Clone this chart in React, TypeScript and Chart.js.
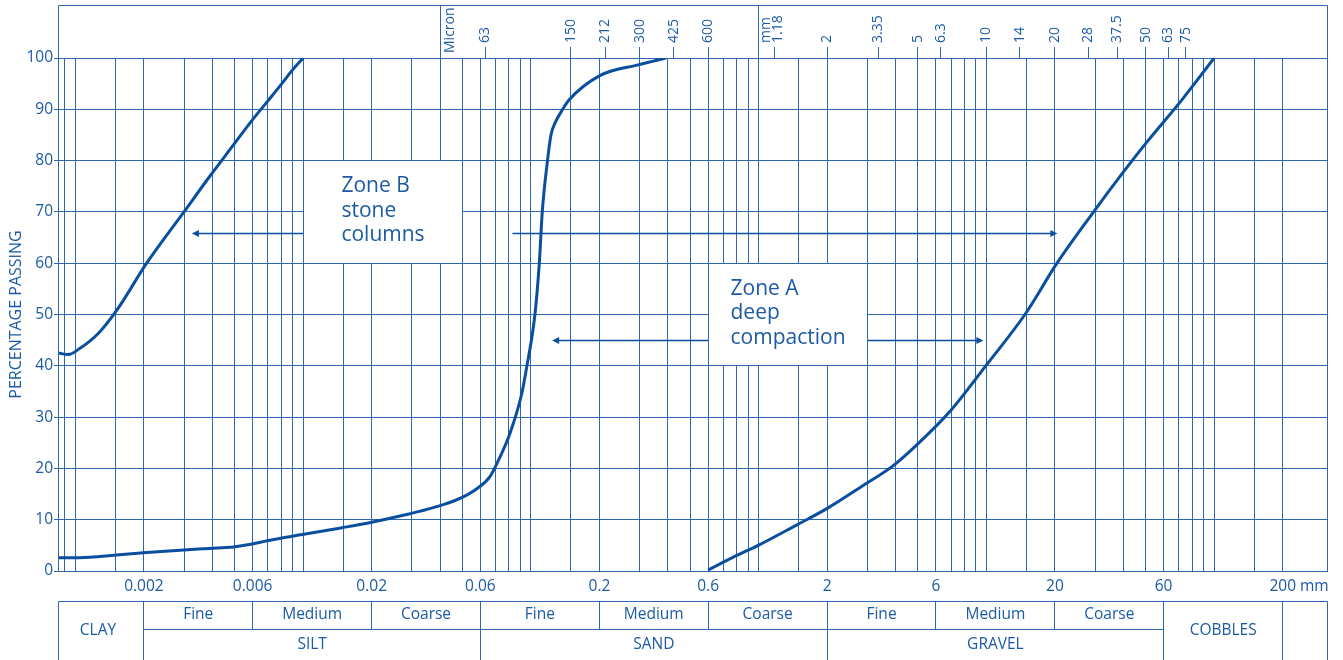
import React, { useEffect, useRef } from 'react';
import { Chart, registerables } from 'chart.js';

Chart.register(...registerables);

const FONT = "'Open Sans', 'DejaVu Sans', sans-serif";
const INK = '#1c5aa5';
const GRID = '#2f66b0';
const CURVE = '#0a4f9f';

const X_MIN = 0.000839;
const X_MAX = 313;

// vertical grid lines (particle size, mm)
const gridSizes = [
  0.0009, 0.001, 0.0015, 0.002, 0.003, 0.004, 0.005, 0.006, 0.007, 0.008, 0.009,
  0.01, 0.015, 0.02, 0.03, 0.04, 0.05, 0.06, 0.07, 0.08, 0.09,
  0.1, 0.15, 0.2, 0.3, 0.4, 0.5, 0.6, 0.7, 0.8, 0.9,
  1, 1.5, 2, 3, 4, 5, 6, 7, 8, 9,
  10, 15, 20, 30, 40, 50, 60, 70, 80, 90,
  100, 150, 200,
];

// bottom axis labels = soil class boundaries (mm)
const sizeBounds = [0.002, 0.006, 0.02, 0.06, 0.2, 0.6, 2, 6, 20, 60, 200];
const sizeLabels = ['0.002', '0.006', '0.02', '0.06', '0.2', '0.6', '2', '6', '20', '60', '200'];
const sizeUnit = 'mm';

// sieve sizes on the top axis (mm) and their labels
const sieveSizes = [0.063, 0.15, 0.212, 0.3, 0.425, 0.6, 1.18, 2, 3.35, 5, 6.3, 10, 14, 20, 28, 37.5, 50, 63, 75];
const sieveLabels = ['63', '150', '212', '300', '425', '600', '1.18', '2', '3.35', '5', '6.3', '10', '14', '20', '28', '37.5', '50', '63', '75'];
const micronLabel = 'Micron';
const mmLabel = 'mm';
const unitSplitSizes = [0.04, 1];
const firstMmSieve = 1.18;

// grading curves (size mm, % passing)
const zoneBFineSize = [0.00084, 0.000931, 0.00104, 0.00126, 0.001518, 0.002056, 0.002998, 0.003871, 0.004934, 0.005884, 0.006961, 0.007968, 0.008844, 0.01];
const zoneBFinePct = [42.5, 42.2, 43.3, 46.3, 50.8, 60, 70, 76.8, 83, 87.5, 91.5, 94.7, 97.3, 100];

const boundarySize = [0.00084, 0.001037, 0.001512, 0.002056, 0.002998, 0.003887, 0.004954, 0.005884, 0.006961, 0.007968, 0.009914, 0.01466, 0.02, 0.02907, 0.03765, 0.048, 0.0577, 0.06614, 0.07313, 0.08092, 0.09111, 0.09584, 0.1042, 0.1089, 0.1122, 0.1183, 0.1225, 0.1276, 0.1379, 0.147, 0.2017, 0.2992, 0.3907];
const boundaryPct = [2.6, 2.6, 3.1, 3.6, 4.1, 4.4, 4.7, 5.2, 5.9, 6.4, 7.1, 8.4, 9.5, 11.1, 12.4, 14, 16, 18.4, 22.2, 26.8, 34.5, 39.7, 50, 60, 70, 80, 85, 87.3, 90, 91.8, 96.6, 98.7, 100];

const zoneACoarseSize = [0.6, 0.7896, 0.9965, 1.459, 2.002, 2.91, 3.863, 4.922, 6.943, 9.859, 14.82, 20.42, 29.68, 39.51, 50.2, 72.03, 100];
const zoneACoarsePct = [0.2, 2.9, 5.0, 8.9, 12.2, 16.8, 20.4, 24.5, 31.2, 39.8, 50.1, 60, 70.1, 77.5, 83.4, 91.8, 100];

// zone annotations (data coordinates)
const zoneBBoxSize = [0.01, 0.05];
const zoneBBoxPct = [60, 80];
const zoneBText = ['Zone B', 'stone', 'columns'];
const zoneBArrowPct = 65.7;
const zoneBArrowLeft = [0.00325, 0.01];
const zoneBArrowRight = [0.083, 20.5];

const zoneABoxSize = [0.6, 3];
const zoneABoxPct = [40, 60];
const zoneAText = ['Zone A', 'deep', 'compaction'];
const zoneAArrowPct = 45;
const zoneAArrowLeft = [0.124, 0.6];
const zoneAArrowRight = [3, 9.7];

// classification table
const tableSubLabels = ['Fine', 'Medium', 'Coarse'];
const tableMainLabels = ['SILT', 'SAND', 'GRAVEL'];
const clayLabel = 'CLAY';
const cobblesLabel = 'COBBLES';

const crisp = (v: number) => Math.round(v - 0.5) + 0.5;
const sameSize = (a: number, b: number) => Math.abs(Math.log10(a) - Math.log10(b)) < 1e-6;

export default function App() {
  const ref = useRef<HTMLCanvasElement>(null);

  useEffect(() => {
    const canvas = ref.current;
    if (!canvas) return;

    const framePlugin = {
      id: 'frameAndTable',
      afterDraw(chart: any) {
        const { ctx, chartArea } = chart;
        const { left, right, top, bottom } = chartArea;
        const xs = chart.scales.x;
        const px = (v: number) => xs.getPixelForValue(v);
        const L = crisp(left);
        const R = crisp(right);
        const boxTop = 5.5;
        ctx.save();
        ctx.strokeStyle = GRID;
        ctx.lineWidth = 1;
        ctx.beginPath();
        ctx.moveTo(L, boxTop); ctx.lineTo(R, boxTop);
        ctx.moveTo(L, boxTop); ctx.lineTo(L, bottom);
        ctx.moveTo(R, boxTop); ctx.lineTo(R, bottom);
        unitSplitSizes.forEach((v) => { const x = crisp(px(v)); ctx.moveTo(x, boxTop); ctx.lineTo(x, top); });
        ctx.stroke();

        // unit captions in the sieve header
        ctx.fillStyle = INK;
        ctx.font = `14px ${FONT}`;
        const vText = (t: string, x: number, y: number) => {
          ctx.save();
          ctx.translate(x, y);
          ctx.rotate(-Math.PI / 2);
          ctx.textAlign = 'left';
          ctx.textBaseline = 'middle';
          ctx.fillText(t, 0, 0);
          ctx.restore();
        };
        vText(micronLabel, px(unitSplitSizes[0]) + 10, top - 5);
        const mmX = px(firstMmSieve);
        vText(mmLabel, mmX - 9, top - 15);
        vText(sieveLabels[sieveSizes.indexOf(firstMmSieve)], mmX + 3, top - 15);

        // unit after last bottom label
        ctx.font = `15.5px ${FONT}`;
        const lastX = px(sizeBounds[sizeBounds.length - 1]);
        const w = ctx.measureText(sizeLabels[sizeLabels.length - 1]).width;
        const sp = ctx.measureText(' ').width;
        ctx.textAlign = 'left';
        ctx.textBaseline = 'middle';
        ctx.fillText(sizeUnit, lastX + w / 2 + sp, bottom + 15.5);

        // classification table
        const tTop = crisp(bottom + 30.5);
        const tMid = crisp(bottom + 58);
        const tEnd = chart.height;
        ctx.beginPath();
        ctx.moveTo(L, tTop); ctx.lineTo(R, tTop);
        ctx.moveTo(crisp(px(sizeBounds[0])), tMid); ctx.lineTo(crisp(px(sizeBounds[9])), tMid);
        ctx.moveTo(L, tTop); ctx.lineTo(L, tEnd);
        ctx.moveTo(R, tTop); ctx.lineTo(R, tEnd);
        sizeBounds.forEach((v, i) => {
          const x = crisp(px(v));
          const full = i % 3 === 0 || i === sizeBounds.length - 1;
          ctx.moveTo(x, tTop);
          ctx.lineTo(x, full ? tEnd : tMid);
        });
        ctx.stroke();

        ctx.textAlign = 'center';
        ctx.textBaseline = 'middle';
        const row1 = bottom + 44;
        const row2 = bottom + 73.5;
        for (let k = 0; k < 3; k++) {
          for (let j = 0; j < 3; j++) {
            const a = px(sizeBounds[3 * k + j]);
            const b = px(sizeBounds[3 * k + j + 1]);
            ctx.fillText(tableSubLabels[j], (a + b) / 2, row1);
          }
          const a = px(sizeBounds[3 * k]);
          const b = px(sizeBounds[3 * k + 3]);
          ctx.fillText(tableMainLabels[k], (a + b) / 2, row2);
        }
        ctx.fillText(clayLabel, (left + px(sizeBounds[0])) / 2 - 3, bottom + 59.5);
        ctx.fillText(cobblesLabel, (px(sizeBounds[9]) + px(sizeBounds[10])) / 2, bottom + 59.5);
        ctx.restore();
      },
    };

    const zonePlugin = {
      id: 'zones',
      afterDatasetsDraw(chart: any) {
        const { ctx } = chart;
        const xs = chart.scales.x;
        const ys = chart.scales.y;
        const px = (v: number) => xs.getPixelForValue(v);
        const py = (v: number) => ys.getPixelForValue(v);
        ctx.save();
        const head = (x: number, y: number, dir: number) => {
          ctx.beginPath();
          ctx.moveTo(x, y);
          ctx.lineTo(x - dir * 7, y - 3.5);
          ctx.lineTo(x - dir * 7, y + 3.5);
          ctx.closePath();
          ctx.fill();
        };
        const zone = (boxS: number[], boxP: number[], text: string[], arrowP: number, leftSeg: number[], rightSeg: number[]) => {
          const y = crisp(py(arrowP));
          ctx.strokeStyle = CURVE;
          ctx.fillStyle = CURVE;
          ctx.lineWidth = 1.5;
          ctx.beginPath();
          ctx.moveTo(px(leftSeg[0]) + 3, y); ctx.lineTo(px(leftSeg[1]), y);
          ctx.moveTo(px(rightSeg[0]), y); ctx.lineTo(px(rightSeg[1]) - 3, y);
          ctx.stroke();
          head(px(leftSeg[0]), y, -1);
          head(px(rightSeg[1]), y, 1);

          const x0 = crisp(px(boxS[0]));
          const x1 = crisp(px(boxS[1]));
          const y0 = crisp(py(boxP[1]));
          const y1 = crisp(py(boxP[0]));
          ctx.fillStyle = '#ffffff';
          ctx.fillRect(x0, y0, x1 - x0, y1 - y0);
          ctx.strokeStyle = GRID;
          ctx.lineWidth = 1;
          ctx.strokeRect(x0, y0, x1 - x0, y1 - y0);

          ctx.fillStyle = INK;
          ctx.font = `21px ${FONT}`;
          ctx.textAlign = 'left';
          ctx.textBaseline = 'middle';
          const maxW = Math.max(...text.map((t) => ctx.measureText(t).width));
          const cx = (x0 + x1) / 2;
          const cy = (y0 + y1) / 2 - 1;
          text.forEach((t, i) => ctx.fillText(t, cx - maxW / 2, cy + (i - 1) * 24.5));
        };
        zone(zoneBBoxSize, zoneBBoxPct, zoneBText, zoneBArrowPct, zoneBArrowLeft, zoneBArrowRight);
        zone(zoneABoxSize, zoneABoxPct, zoneAText, zoneAArrowPct, zoneAArrowLeft, zoneAArrowRight);
        ctx.restore();
      },
    };

    const series = (xs: number[], ys: number[]) => xs.map((x, i) => ({ x, y: ys[i] }));
    const lineStyle = {
      borderColor: CURVE,
      borderWidth: 3,
      pointRadius: 0,
      fill: false,
      cubicInterpolationMode: 'monotone' as const,
    };

    const chart = new Chart(canvas, {
      type: 'line',
      data: {
        datasets: [
          { label: 'Zone B fine limit', data: series(zoneBFineSize, zoneBFinePct), ...lineStyle },
          { label: 'Zone A / B boundary', data: series(boundarySize, boundaryPct), ...lineStyle },
          { label: 'Zone A coarse limit', data: series(zoneACoarseSize, zoneACoarsePct), ...lineStyle },
        ],
      },
      options: {
        animation: false,
        responsive: false,
        devicePixelRatio: 1,
        layout: { padding: { left: 0, right: 16, top: 0, bottom: 0 } },
        plugins: { legend: { display: false }, tooltip: { enabled: false } },
        scales: {
          x: {
            type: 'logarithmic',
            position: 'bottom',
            min: X_MIN,
            max: X_MAX,
            bounds: 'data',
            afterBuildTicks: (s: any) => { s.ticks = gridSizes.map((v) => ({ value: v })); },
            afterFit: (s: any) => { s.height = 89; },
            grid: { color: GRID, lineWidth: 1, drawTicks: false },
            border: { display: true, color: GRID, width: 1 },
            ticks: {
              autoSkip: false,
              minRotation: 0,
              maxRotation: 0,
              padding: 6,
              color: INK,
              font: { family: FONT, size: 15.5 },
              callback: (value: any) => {
                const i = sizeBounds.findIndex((b) => sameSize(b, Number(value)));
                return i >= 0 ? sizeLabels[i] : '';
              },
            },
          },
          x2: {
            type: 'logarithmic',
            position: 'top',
            min: X_MIN,
            max: X_MAX,
            bounds: 'data',
            afterBuildTicks: (s: any) => { s.ticks = sieveSizes.map((v) => ({ value: v })); },
            afterFit: (s: any) => { s.height = 58; },
            grid: { drawOnChartArea: false, drawTicks: true, tickLength: 11, color: GRID },
            border: { display: false },
            ticks: {
              autoSkip: false,
              minRotation: 90,
              maxRotation: 90,
              padding: 4,
              labelOffset: 16.8,
              color: INK,
              font: { family: FONT, size: 14 },
              callback: (value: any) => {
                const v = Number(value);
                if (sameSize(v, firstMmSieve)) return '';
                const i = sieveSizes.findIndex((b) => sameSize(b, v));
                return i >= 0 ? sieveLabels[i] : '';
              },
            },
          },
          y: {
            type: 'linear',
            min: 0,
            max: 100,
            afterFit: (s: any) => { s.width = 58; },
            grid: { color: GRID, lineWidth: 1, tickLength: 4 },
            border: { display: true, color: GRID },
            ticks: { stepSize: 10, padding: 1, color: INK, font: { family: FONT, size: 15.5 } },
            title: {
              display: true,
              text: 'PERCENTAGE PASSING',
              color: INK,
              font: { family: FONT, size: 16 },
              padding: { top: 7, bottom: 0 },
            },
          },
        },
      } as any,
      plugins: [framePlugin, zonePlugin],
    });

    return () => chart.destroy();
  }, []);

  return (
    <div style={{ position: 'absolute', left: 0, top: 0, width: 1343, height: 660, background: '#ffffff' }}>
      <canvas ref={ref} width={1343} height={660} style={{ display: 'block' }} />
    </div>
  );
}
